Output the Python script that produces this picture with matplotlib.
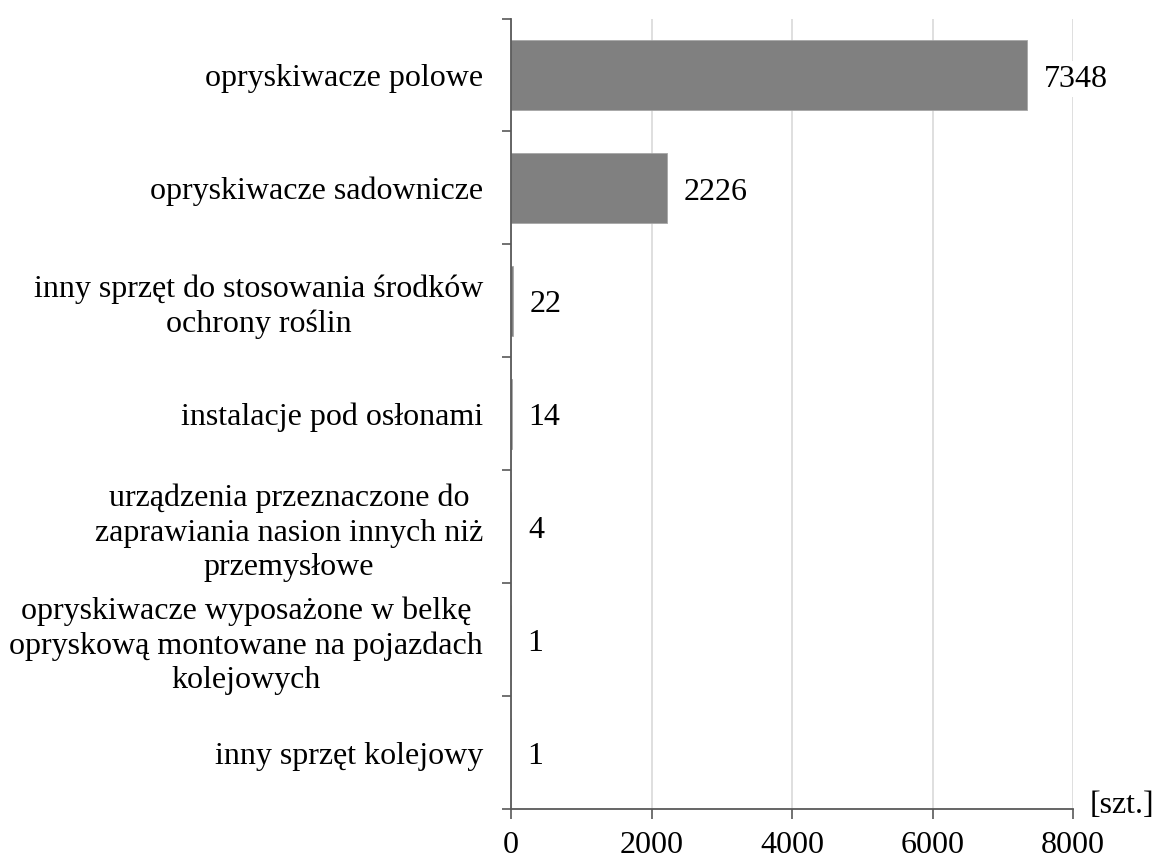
import matplotlib
matplotlib.use("Agg")
import matplotlib.pyplot as plt
from matplotlib.ticker import FixedLocator

categories = [
    "opryskiwacze polowe",
    "opryskiwacze sadownicze",
    "inny sprzęt do stosowania środków\nochrony roślin",
    "instalacje pod osłonami",
    "urządzenia przeznaczone do\nzaprawiania nasion innych niż\nprzemysłowe",
    "opryskiwacze wyposażone w belkę\nopryskową montowane na pojazdach\nkolejowych",
    "inny sprzęt kolejowy",
]
values = [7348, 2226, 22, 14, 4, 1, 1]
xticks = [0, 2000, 4000, 6000, 8000]
unit_label = "[szt.]"

plt.rcParams['font.family'] = ['Liberation Serif', 'DejaVu Serif']
FS = 23

fig = plt.figure(figsize=(11.55, 8.59), dpi=100)
ax = fig.add_axes([511/1155, 1-809/859, (1073-511)/1155, (809-18.5)/859])

pos = list(range(len(categories)))
ax.barh(pos, values, height=0.62, color='#808080', edgecolor='#a6a6a6', linewidth=0.6, zorder=2)

ax.set_xlim(0, 8000)
ax.set_ylim(len(categories)-0.5, -0.5)

ax.set_xticks(xticks)
ax.set_xticklabels([str(t) for t in xticks], fontsize=FS)
ax.grid(axis='x', color='#d9d9d9', linewidth=1.2, zorder=0)
ax.set_axisbelow(True)

ax.set_yticks(pos)
ax.set_yticklabels(categories, fontsize=FS, multialignment='center', linespacing=1.25)
ax.yaxis.set_minor_locator(FixedLocator([p - 0.5 for p in pos] + [len(pos) - 0.5]))
ax.tick_params(axis='y', which='major', length=0, pad=20)
ax.tick_params(axis='y', which='minor', length=6.5, width=1.2, color='#595959', direction='out')
ax.tick_params(axis='x', which='major', length=7, width=1.2, color='#595959', direction='out', pad=9)

for s in ['top', 'right']:
    ax.spines[s].set_visible(False)
for s in ['left', 'bottom']:
    ax.spines[s].set_color('#595959')
    ax.spines[s].set_linewidth(1.3)

for p, v in zip(pos, values):
    ax.annotate(str(v), xy=(v, p), xytext=(12, -3), textcoords='offset points',
                va='center', ha='left', fontsize=FS,
                bbox=dict(boxstyle='square,pad=0.1', facecolor='white', edgecolor='none'))

ax.annotate(unit_label, xy=(1.0, 0.0), xycoords='axes fraction', xytext=(12, -3),
            textcoords='offset points', fontsize=FS, ha='left', va='baseline')

fig.savefig("out.png", dpi=100)
